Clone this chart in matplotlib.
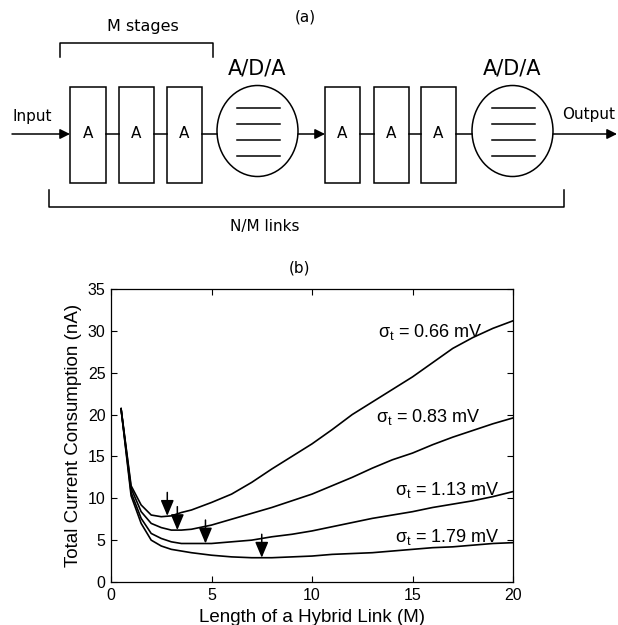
import matplotlib
matplotlib.use("Agg")
import matplotlib.pyplot as plt
from matplotlib.patches import Rectangle, Ellipse

# ---------------------------------------------------------------- data (b)
link_len = [0.5, 1.0, 1.5, 2.0, 2.5, 3.0, 3.5, 4.0, 5.0, 6.0, 7.0, 8.0,
            9.0, 10.0, 11.0, 12.0, 13.0, 14.0, 15.0, 16.0, 17.0, 18.0,
            19.0, 20.0]
i_066 = [20.7, 11.5, 9.2, 8.0, 7.8, 7.9, 8.3, 8.6, 9.5, 10.5, 11.9, 13.5,
         15.0, 16.5, 18.2, 20.0, 21.5, 23.0, 24.5, 26.2, 27.9, 29.2,
         30.3, 31.2]
i_083 = [20.7, 11.2, 8.4, 7.0, 6.5, 6.2, 6.2, 6.3, 6.8, 7.5, 8.2, 8.9,
         9.7, 10.5, 11.5, 12.5, 13.6, 14.6, 15.4, 16.4, 17.3, 18.1,
         18.9, 19.6]
i_113 = [20.7, 10.7, 7.6, 5.8, 5.2, 4.8, 4.6, 4.6, 4.6, 4.8, 5.0, 5.4,
         5.7, 6.1, 6.6, 7.1, 7.6, 8.0, 8.4, 8.9, 9.3, 9.7, 10.2, 10.8]
i_179 = [20.7, 10.3, 7.0, 5.0, 4.3, 3.9, 3.7, 3.5, 3.2, 3.0, 2.9, 2.9,
         3.0, 3.1, 3.3, 3.4, 3.5, 3.7, 3.9, 4.1, 4.2, 4.4, 4.6, 4.7]
sigma_labels = ['0.66', '0.83', '1.13', '1.79']
# optimum link length (arrow tips)
opt_m = [2.8, 3.3, 4.7, 7.5]
opt_i = [7.9, 6.2, 4.6, 2.9]

PF = 'Liberation Sans'
plt.rcParams['mathtext.fontset'] = 'custom'
plt.rcParams['mathtext.rm'] = PF
plt.rcParams['mathtext.it'] = PF

fig = plt.figure(figsize=(6.18, 6.25), dpi=100)

# ---------------------------------------------------------------- (a) diagram
# overlay axes in pixel coordinates (y downwards)
dg = fig.add_axes([0, 0, 1, 1])
dg.set_xlim(0, 618)
dg.set_ylim(625, 0)
dg.axis('off')

DF = 'DejaVu Sans'
LW = 1.1
ROW = 134

dg.text(305, 17, '(a)', ha='center', va='center', fontsize=11, family=DF)
dg.text(143, 27, 'M stages', ha='center', va='center', fontsize=11.5, family=DF)
dg.plot([60, 60, 213, 213], [57, 43, 43, 57], color='k', lw=LW)

boxes = [(70, 106), (119, 154), (167, 202), (325, 360), (374, 409), (421, 456)]
for x0, x1 in boxes:
    dg.add_patch(Rectangle((x0, 87), x1 - x0, 96, facecolor='white',
                           edgecolor='k', lw=LW))
    dg.text((x0 + x1) / 2, ROW, 'A', ha='center', va='center', fontsize=11,
            family=DF)

# wires between boxes
for xa, xb in [(106, 119), (154, 167), (202, 217), (360, 374), (409, 421),
               (456, 472)]:
    dg.plot([xa, xb], [ROW, ROW], color='k', lw=LW)

for cx in [257.5, 512.5]:
    dg.add_patch(Ellipse((cx, 131), 81, 91, facecolor='white', edgecolor='k',
                         lw=LW))
    for yy in [108, 124, 140, 156]:
        dg.plot([cx - 21, cx + 22], [yy, yy], color='k', lw=LW)
    dg.text(cx, 68, 'A/D/A', ha='center', va='center', fontsize=15, family=DF)

arr = dict(arrowstyle='-|>', color='k', lw=LW, mutation_scale=15,
           shrinkA=0, shrinkB=0)
dg.annotate('', xy=(70, ROW), xytext=(12, ROW), arrowprops=arr)
dg.annotate('', xy=(325, ROW), xytext=(298, ROW), arrowprops=arr)
dg.annotate('', xy=(617, ROW), xytext=(553, ROW), arrowprops=arr)
dg.text(13, 117, 'Input', ha='left', va='center', fontsize=11, family=DF)
dg.text(562, 115, 'Output', ha='left', va='center', fontsize=11, family=DF)

dg.plot([49, 49, 564, 564], [190, 207, 207, 190], color='k', lw=LW)
dg.text(265, 227, 'N/M links', ha='center', va='center', fontsize=11,
        family=DF)
dg.text(300, 268, '(b)', ha='center', va='center', fontsize=11, family=DF)

# ---------------------------------------------------------------- (b) plot
ax = fig.add_axes([111 / 618, 1 - 582 / 625, 402 / 618, 293 / 625])
for y in [i_066, i_083, i_113, i_179]:
    ax.plot(link_len, y, color='k', lw=1.2)

for m, v in zip(opt_m, opt_i):
    ax.annotate('', xy=(m, v), xytext=(m, v + 2.8),
                arrowprops=dict(arrowstyle='-|>,head_length=0.95,head_width=0.4',
                                color='k', lw=1.1, mutation_scale=10,
                                shrinkA=0, shrinkB=0))

label_pos = [(18.5, 29.9), (18.4, 19.7), (19.35, 11.0), (19.35, 5.4)]
for s, (lx, ly) in zip(sigma_labels, label_pos):
    ax.text(lx, ly, r'$\sigma_{\rm t}$' + ' = ' + s + ' mV', ha='right',
            va='center', fontsize=13, family=PF)

ax.set_xlim(0, 20)
ax.set_ylim(0, 35)
ax.set_xticks([0, 5, 10, 15, 20])
ax.set_yticks([0, 5, 10, 15, 20, 25, 30, 35])
ax.tick_params(direction='in', top=True, right=True, length=4, width=0.8,
               labelsize=11.5, pad=4)
for lab in ax.get_xticklabels() + ax.get_yticklabels():
    lab.set_family(PF)
for sp in ax.spines.values():
    sp.set_linewidth(0.9)
ax.set_xlabel('Length of a Hybrid Link (M)', fontsize=13.5, family=PF,
              labelpad=5)
ax.set_ylabel('Total Current Consumption (nA)', fontsize=13.5, family=PF,
              labelpad=4)

fig.savefig('out.png', dpi=100, facecolor='white')
